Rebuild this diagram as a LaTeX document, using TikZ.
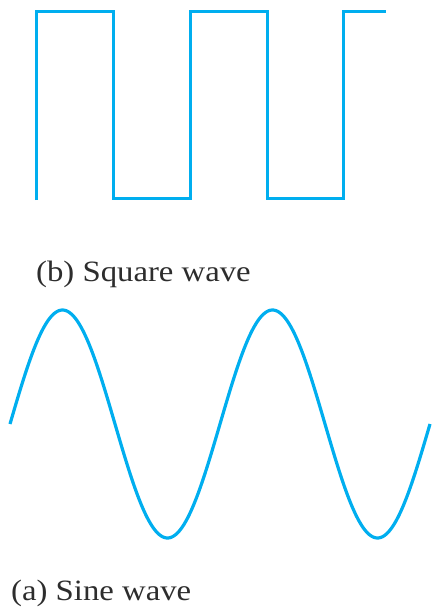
\documentclass[tikz,border=0pt]{standalone}
\usepackage{fontspec}
\setmainfont{Liberation Serif}
\definecolor{wavecyan}{RGB}{0,174,239}
\definecolor{labelgray}{RGB}{45,45,45}
\begin{document}
\begin{tikzpicture}[x=1pt,y=-1pt,
  wave/.style={draw=wavecyan,line width=3pt,line join=miter},
  caption/.style={anchor=base west,inner sep=0pt,text=labelgray,font=\fontsize{29.5}{31}\selectfont}]
\useasboundingbox (0,0) rectangle (433,607);
% square wave
\draw[wave] (36.7,200) -- (36.7,12) -- (113,12) -- (113,198) -- (190,198) -- (190,12)
  -- (267,12) -- (267,198) -- (343,198) -- (343,12) -- (386,12);
\node[caption] (sq) at (36,281) {\scalebox{1.11}[1]{(b) Square wave}};
% sine wave
\draw[wave,line width=3.2pt] plot[domain=10:430,samples=240,smooth] (\x,{424-114*sin((\x-10)*1.7142857)});
\node[caption] (si) at (11,600) {\scalebox{1.11}[1]{(a) Sine wave}};
\end{tikzpicture}
\end{document}
